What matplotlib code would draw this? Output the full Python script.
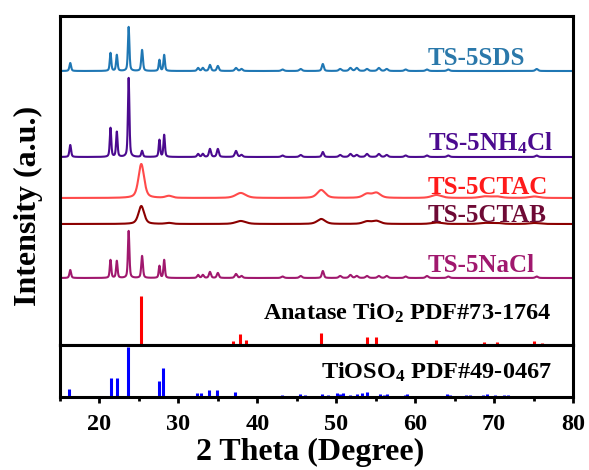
import numpy as np
import matplotlib
matplotlib.use("Agg")
import matplotlib.pyplot as plt

plt.rcParams['font.family'] = ['Liberation Serif', 'DejaVu Serif']
plt.rcParams['font.weight'] = 'bold'
plt.rcParams['mathtext.fontset'] = 'custom'
plt.rcParams['mathtext.rm'] = 'Liberation Serif:bold'
plt.rcParams['mathtext.it'] = 'Liberation Serif:bold:italic'
plt.rcParams['mathtext.bf'] = 'Liberation Serif:bold'

# ---------------- data (arbitrary intensity units) ----------------
# crystalline (TiOSO4-like) samples: common peak positions, per-sample heights
cryst_pos = [16.3, 21.4, 22.2, 23.7, 25.4, 27.6, 28.2, 32.5, 33.1, 34.0, 35.0, 37.3, 38.0,
             43.2, 45.5, 48.3, 50.5, 51.8, 52.6, 53.9, 55.4, 56.4, 58.8, 61.5, 64.2, 75.4]
cryst_fwhm = [0.25, 0.22, 0.22, 0.22, 0.25, 0.22, 0.22, 0.3, 0.3, 0.3, 0.3, 0.35, 0.35,
              0.4, 0.4, 0.3, 0.4, 0.4, 0.4, 0.4, 0.4, 0.4, 0.4, 0.4, 0.4, 0.4]
sds_int = [8, 18, 16, 44, 21, 11, 16, 3, 3, 6, 5, 3, 2,
           1.5, 2, 7, 2, 3, 3, 2, 3, 2, 1.5, 1.5, 1.5, 2]
nh4cl_int = [12, 29, 25, 79, 6, 17, 22, 3, 3, 8, 8, 6, 2,
             1.5, 2, 5, 2, 3, 2, 3, 3, 2, 1.5, 1.5, 1.5, 1.5]
nacl_int = [8, 18, 17, 47, 22, 12, 18, 3, 3, 6, 5, 4, 2,
            1.5, 2, 7, 2, 3, 2, 2, 2, 2, 1.5, 2, 1.5, 1.5]

# anatase-like samples (broad peaks)
anat_pos = [25.3, 28.8, 37.9, 48.1, 53.9, 55.1, 62.7, 68.8, 70.3, 75.1]
anat_fwhm = [0.85, 1.0, 1.5, 1.2, 1.2, 1.2, 1.5, 1.5, 1.5, 1.5]
ctac_int = [34, 2, 5, 8, 4, 5, 3, 1.5, 1.5, 1.5]
ctab_int = [18, 1, 3, 5, 2.5, 3, 1.5, 1, 1, 1]

sample_names = ['TS-5SDS', 'TS-5NH$_4$Cl', 'TS-5CTAC', 'TS-5CTAB', 'TS-5NaCl']

# reference patterns
anatase_ref_pos = [25.3, 36.95, 37.8, 38.57, 48.05, 53.89, 55.06, 62.69, 68.76, 70.31, 75.03, 76.02]
anatase_ref_int = [49, 4, 11, 5, 12, 8, 8, 5, 3, 3, 4, 2]
tioso4_ref_pos = [16.2, 21.4, 22.2, 23.6, 27.5, 28.1, 32.4, 32.9, 33.9, 34.9, 37.2, 43.1,
                  45.4, 46.0, 48.2, 49.0, 50.1, 50.5, 50.9, 51.8, 52.6, 53.3, 53.9, 55.6,
                  56.0, 56.4, 58.7, 59.0, 64.0, 64.4, 66.5, 66.9, 68.6, 69.1, 70.1, 71.2, 71.8]
tioso4_ref_int = [8, 19, 19, 50, 16, 29, 4, 4, 7, 7, 5, 2,
                  3, 2, 3, 2, 4, 3, 4, 2, 3, 4, 5, 3,
                  2, 3, 2, 3, 3, 2, 2, 2, 2, 3, 2, 2, 2]

# ---------------- layout / style ----------------
offsets = [274, 188, 147, 121, 67]
line_colors = ['#1f77b4', '#4b0a8f', '#ff4a4a', '#8b0000', '#a0186e']
text_colors = ['#2a78aa', '#4b0a8f', '#ff1a1a', '#6e0a35', '#a0186e']
label_y = [280, 195, 151, 123, 73]


def profile(x, pos, inten, fwhm, eta=0.5):
    y = np.zeros_like(x)
    for c, h, w in zip(pos, inten, fwhm):
        g = np.exp(-4 * np.log(2) * ((x - c) / w) ** 2)
        l = 1.0 / (1 + 4 * ((x - c) / w) ** 2)
        y += h * (eta * l + (1 - eta) * g)
    return y


tt = np.linspace(15, 80, 3251)
curves = [
    profile(tt, cryst_pos, sds_int, cryst_fwhm),
    profile(tt, cryst_pos, nh4cl_int, cryst_fwhm),
    profile(tt, anat_pos, ctac_int, anat_fwhm),
    profile(tt, anat_pos, ctab_int, anat_fwhm),
    profile(tt, cryst_pos, nacl_int, cryst_fwhm),
]

fig = plt.figure(figsize=(5.89, 4.70), dpi=100)
gs = fig.add_gridspec(2, 1, height_ratios=[329, 52], hspace=0,
                      left=60 / 589, right=573 / 589, top=1 - 16 / 470, bottom=1 - 397 / 470)
ax1 = fig.add_subplot(gs[0])
ax2 = fig.add_subplot(gs[1], sharex=ax1)

for cv, off, lc in zip(curves, offsets, line_colors):
    ax1.plot(tt, cv + off, color=lc, lw=1.5)

for name, ly, tc in zip(sample_names, label_y, text_colors):
    ax1.text(61.6, ly, name, color=tc, fontsize=18, fontweight='bold', ha='left', va='baseline')

ax1.vlines(anatase_ref_pos, 0, anatase_ref_int, color='#ff0000', lw=2.2)
ax1.text(77.3, 25, 'Anatase TiO$_2$ PDF#73-1764', color='black', fontsize=17.5,
         fontweight='bold', ha='right', va='baseline')

ax2.vlines(tioso4_ref_pos, 0, tioso4_ref_int, color='#0000ff', lw=2.2)
ax2.text(77.3, 18.7, 'TiOSO$_4$ PDF#49-0467', color='black', fontsize=17.5,
         fontweight='bold', ha='right', va='baseline')

ax1.set_xlim(15, 80)
ax1.set_ylim(0, 329)
ax2.set_ylim(0, 52)

for ax in (ax1, ax2):
    for sp in ax.spines.values():
        sp.set_linewidth(2.2)
    ax.set_yticks([])

ax1.tick_params(axis='x', which='both', bottom=False, labelbottom=False)
ax2.set_xticks([20, 30, 40, 50, 60, 70, 80])
ax2.set_xticks(np.arange(15, 81, 5), minor=True)
ax2.tick_params(axis='x', which='major', direction='out', length=4.5, width=2, labelsize=17.5, pad=8)
ax2.tick_params(axis='x', which='minor', direction='out', length=3, width=2)
for lab in ax2.get_xticklabels():
    lab.set_fontweight('bold')

fig.text(310 / 589, 1 - 460 / 470, '2 Theta (Degree)', fontsize=23, fontweight='bold',
         ha='center', va='baseline')
fig.text(28 / 589, 1 - 206 / 470, 'Intensity (a.u.)', rotation=90, fontsize=23,
         fontweight='bold', ha='center', va='center')

fig.savefig('out.png', dpi=100)
